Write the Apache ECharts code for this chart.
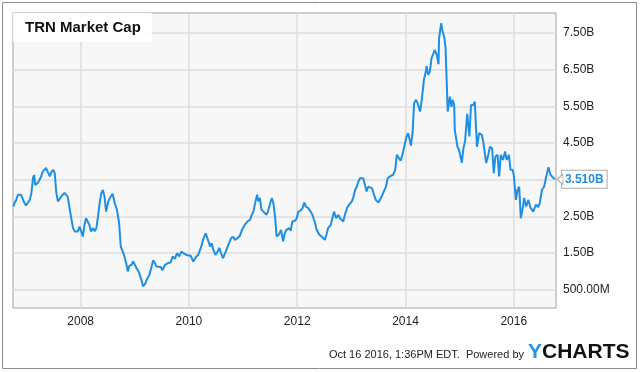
<!DOCTYPE html>
<html>
<head>
<meta charset="utf-8">
<script src="https://cdn.jsdelivr.net/npm/echarts@6/dist/echarts.min.js"></script>
<style>
html,body{margin:0;padding:0;background:#fff;}
#c{width:640px;height:372px;}
</style>
</head>
<body>
<div id="c"></div>
<script>
// Time in decimal years, market cap in billions USD
const years = [2006.76,2006.78,2006.81,2006.84,2006.87,2006.90,2006.93,2006.96,2006.99,2007.02,
2007.06,2007.09,2007.12,2007.14,2007.16,2007.21,2007.24,2007.27,2007.30,2007.33,
2007.36,2007.39,2007.43,2007.45,2007.49,2007.52,2007.55,2007.58,2007.61,2007.64,
2007.67,2007.70,2007.73,2007.76,2007.79,2007.82,2007.86,2007.89,2007.92,2007.95,
2007.98,2008.01,2008.04,2008.07,2008.10,2008.13,2008.16,2008.19,2008.23,2008.26,
2008.29,2008.32,2008.35,2008.38,2008.41,2008.44,2008.47,2008.51,2008.54,2008.59,
2008.63,2008.67,2008.71,2008.74,2008.77,2008.80,2008.84,2008.87,2008.90,2008.94,
2008.97,2009.00,2009.03,2009.08,2009.13,2009.15,2009.19,2009.22,2009.27,2009.31,
2009.34,2009.37,2009.40,2009.43,2009.48,2009.51,2009.56,2009.62,2009.66,2009.70,
2009.74,2009.78,2009.82,2009.86,2009.91,2009.94,2009.99,2010.03,2010.08,2010.13,
2010.17,2010.22,2010.26,2010.31,2010.34,2010.39,2010.42,2010.45,2010.49,2010.53,
2010.56,2010.59,2010.63,2010.68,2010.73,2010.78,2010.82,2010.85,2010.90,2010.94,
2010.98,2011.03,2011.08,2011.13,2011.16,2011.19,2011.23,2011.26,2011.28,2011.31,
2011.34,2011.39,2011.43,2011.46,2011.50,2011.53,2011.56,2011.59,2011.62,2011.66,
2011.70,2011.74,2011.77,2011.80,2011.85,2011.88,2011.91,2011.96,2011.99,2012.02,
2012.06,2012.10,2012.13,2012.16,2012.20,2012.25,2012.28,2012.33,2012.36,2012.41,
2012.45,2012.48,2012.51,2012.54,2012.57,2012.62,2012.65,2012.68,2012.72,2012.76,
2012.79,2012.82,2012.85,2012.88,2012.92,2012.96,2013.01,2013.04,2013.07,2013.10,
2013.13,2013.16,2013.19,2013.22,2013.25,2013.28,2013.31,2013.34,2013.38,2013.42,
2013.45,2013.50,2013.53,2013.56,2013.60,2013.64,2013.67,2013.70,2013.73,2013.77,
2013.81,2013.84,2013.87,2013.91,2013.95,2013.99,2014.02,2014.05,2014.10,2014.13,
2014.16,2014.19,2014.22,2014.27,2014.30,2014.34,2014.38,2014.39,2014.42,2014.45,
2014.48,2014.54,2014.58,2014.61,2014.62,2014.66,2014.68,2014.72,2014.74,2014.78,
2014.80,2014.82,2014.85,2014.87,2014.90,2014.91,2014.96,2014.99,2015.04,2015.07,
2015.10,2015.14,2015.18,2015.21,2015.25,2015.28,2015.32,2015.36,2015.41,2015.44,
2015.49,2015.53,2015.56,2015.60,2015.63,2015.66,2015.70,2015.73,2015.76,2015.80,
2015.84,2015.87,2015.91,2015.94,2015.98,2016.00,2016.04,2016.07,2016.10,2016.13,
2016.17,2016.19,2016.23,2016.27,2016.31,2016.36,2016.41,2016.45,2016.48,2016.52,
2016.56,2016.60,2016.64,2016.68,2016.72,2016.76];

const marketCapB = [2.77,2.87,2.95,3.09,3.14,3.09,3.04,2.87,2.80,2.86,
2.95,3.14,3.55,3.63,3.36,3.42,3.50,3.59,3.72,3.77,
3.82,3.72,3.59,3.68,3.77,3.69,3.14,2.91,2.95,3.04,
3.01,3.14,3.18,3.04,2.77,2.50,2.18,2.09,2.13,2.09,
2.22,2.09,1.95,2.27,2.45,2.41,2.27,2.09,2.18,2.09,
2.18,2.50,2.86,3.13,3.22,3.04,2.63,2.91,3.00,3.12,
2.86,2.68,2.32,1.68,1.64,1.45,1.23,1.00,1.15,1.18,
1.27,1.32,1.09,0.96,0.73,0.59,0.66,0.77,0.91,1.13,
1.30,1.23,1.13,1.18,1.12,1.03,1.18,1.23,1.24,1.41,
1.34,1.50,1.41,1.54,1.48,1.52,1.43,1.43,1.27,1.39,
1.45,1.64,1.86,2.04,1.91,1.68,1.77,1.59,1.45,1.54,
1.64,1.50,1.36,1.54,1.73,1.91,1.94,1.86,1.91,1.97,
2.13,2.27,2.36,2.41,2.54,2.63,2.91,3.09,2.91,3.00,
2.68,2.61,2.54,2.63,2.86,3.00,2.86,2.50,1.95,2.00,
2.13,1.82,2.04,2.13,2.18,2.11,2.36,2.38,2.45,2.63,
2.66,2.73,2.88,2.77,2.73,2.63,2.54,2.32,2.13,2.00,
1.95,1.97,1.86,2.00,2.18,2.27,2.27,2.63,2.45,2.54,
2.45,2.50,2.36,2.54,2.73,2.82,2.91,3.04,3.22,3.31,
3.45,3.54,3.59,3.54,3.36,3.18,3.31,3.36,3.27,3.09,
2.95,2.88,2.91,3.04,3.18,3.31,3.54,3.59,3.61,3.63,
3.77,4.18,4.13,4.02,4.22,4.50,4.68,4.77,4.43,4.77,
5.59,5.68,5.61,5.36,5.68,6.22,6.49,6.60,6.36,6.45,
6.81,7.04,6.90,6.65,7.36,7.77,7.58,7.36,7.09,5.36,
5.31,5.77,5.49,5.68,5.54,4.86,4.40,4.31,3.96,4.36,
4.54,5.30,4.68,5.54,5.54,5.63,4.40,4.77,4.72,4.50,
3.96,4.18,4.40,4.36,3.68,4.13,4.18,3.59,4.18,4.04,
4.27,4.04,4.18,3.77,3.77,3.63,2.95,3.22,3.31,2.45,
2.77,3.00,2.77,2.95,2.73,2.63,2.82,2.75,2.86,3.22,
3.31,3.59,3.84,3.63,3.57,3.51];

const xTickYears = [2008, 2010, 2012, 2014, 2016];
const yTickValues = [0.5, 1.5, 2.5, 3.5, 4.5, 5.5, 6.5, 7.5];
const yTickShown = [0.5, 1.5, 2.5, 4.5, 5.5, 6.5, 7.5];
const titleText = 'TRN Market Cap';
const footerText = 'Oct 16 2016, 1:36PM EDT.  Powered by';

const FONT = '"Liberation Sans", Arial, sans-serif';
const BLUE = '#1e8fe3';

const seriesData = years.map((y, i) => [y, marketCapB[i]]);
const lastPoint = seriesData[seriesData.length - 1];

function fmtY(v) {
  if (v < 1) return (v * 1000).toFixed(2) + 'M';
  return v.toFixed(2) + 'B';
}

const chart = echarts.init(document.getElementById('c'), null, {renderer: 'canvas'});
chart.setOption({
  animation: false,
  backgroundColor: '#fff',
  title: {
    text: titleText,
    left: 13, top: 13,
    padding: [7, 11, 7, 12],
    backgroundColor: 'rgba(255,255,255,0.92)',
    textStyle: {fontFamily: FONT, fontSize: 15, fontWeight: 'bold', color: '#111'}
  },
  grid: {
    left: 13, right: 84, top: 13, bottom: 64,
    show: true, backgroundColor: '#f7f7f7', borderColor: '#a0a0a0', borderWidth: 1,
    containLabel: false
  },
  xAxis: {
    type: 'value',
    min: 2006.75, max: 2016.78,
    axisLine: {show: false},
    axisTick: {show: false, customValues: xTickYears},
    axisLabel: {customValues: xTickYears, formatter: v => String(Math.round(v)),
      fontFamily: FONT, fontSize: 12, color: '#222', margin: 8},
    splitLine: {show: true, lineStyle: {color: '#dcdcdc', width: 1.5}}
  },
  yAxis: {
    type: 'value',
    position: 'right',
    min: 0, max: 8.05,
    axisLine: {show: false},
    axisTick: {show: false, customValues: yTickValues},
    axisLabel: {customValues: yTickShown, formatter: fmtY,
      fontFamily: FONT, fontSize: 12, color: '#222', margin: 7},
    splitLine: {show: true, lineStyle: {color: '#dcdcdc', width: 1.5}}
  },
  series: [{
    type: 'line',
    data: seriesData,
    showSymbol: false,
    symbol: 'none',
    lineStyle: {color: BLUE, width: 2},
    endLabel: {
      show: true,
      formatter: p => p.value[1].toFixed(3) + 'B',
      distance: 7,
      fontFamily: FONT, fontSize: 12, fontWeight: 'bold', color: BLUE,
      backgroundColor: '#fff', borderColor: '#aaa', borderWidth: 1,
      padding: [3, 3, 2, 3]
    },
    markPoint: {
      silent: true,
      z: 10,
      data: [{coord: lastPoint}],
      symbol: 'triangle',
      symbolSize: [10, 6],
      symbolRotate: 90,
      symbolOffset: [5, 0],
      itemStyle: {color: '#fff', borderColor: '#aaa', borderWidth: 1},
      label: {show: false}
    }
  }],
  graphic: [
    {type: 'rect', z: -10, silent: true,
      shape: {x: 2.5, y: 2.5, width: 634, height: 366},
      style: {fill: 'none', stroke: '#8c8c8c', lineWidth: 1}},
    {type: 'text', right: 116, top: 349,
      style: {text: footerText, font: '11px ' + FONT, fill: '#222'}},
    {type: 'text', left: 528, top: 342,
      style: {
        text: '{y|Y}{c|CHARTS}',
        rich: {
          y: {fontFamily: FONT, fontSize: 21, fontWeight: 'bold', fill: '#1e96ec', color: '#1e96ec'},
          c: {fontFamily: FONT, fontSize: 21, fontWeight: 'bold', fill: '#111', color: '#111'}
        }
      }}
  ]
});
</script>
</body>
</html>
